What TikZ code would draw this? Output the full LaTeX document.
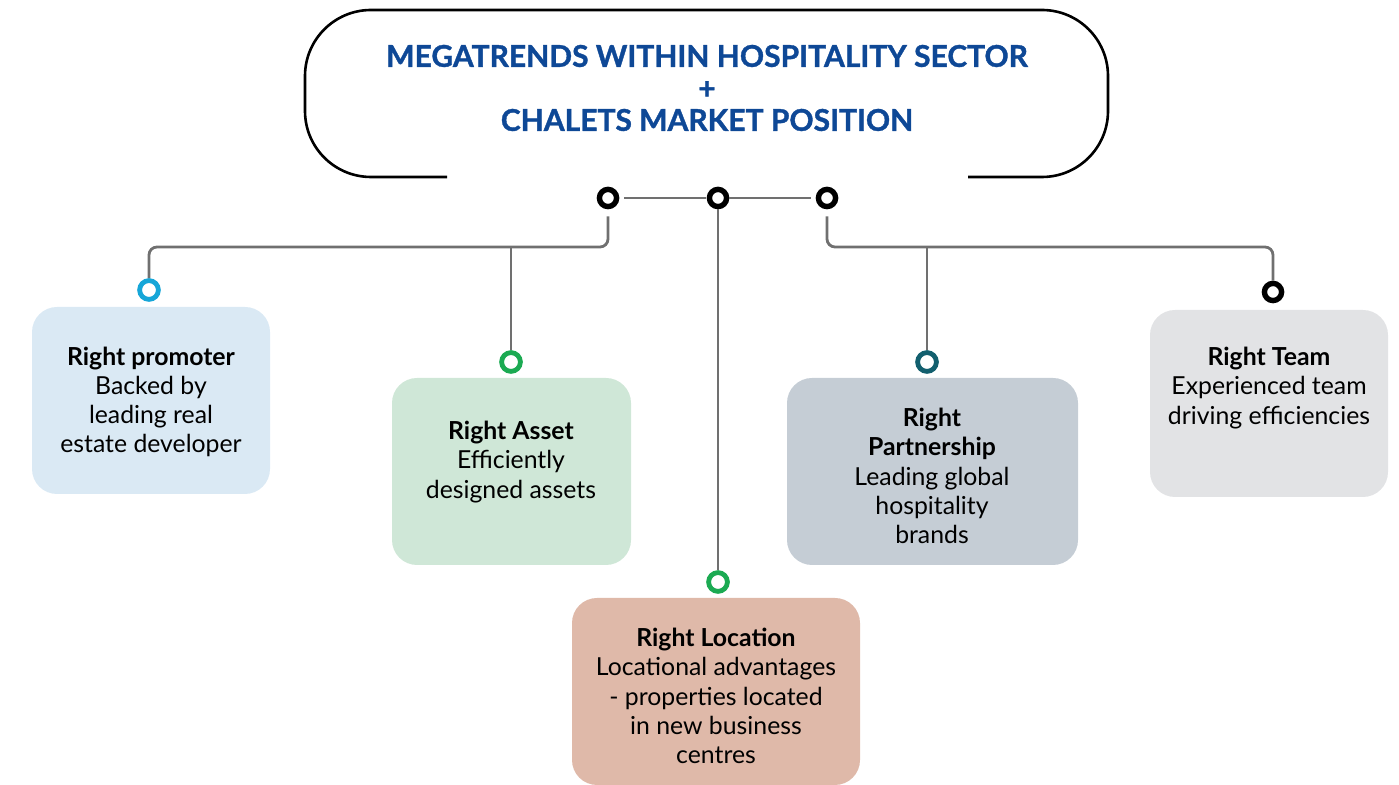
\documentclass[tikz,border=0pt]{standalone}
\usepackage{fontspec}
\setmainfont{Lato}
\newfontfamily\titlefont{Lato}[BoldFeatures={FakeBold=1.2}]
\definecolor{titleblue}{RGB}{14,72,150}
\definecolor{promfill}{RGB}{218,233,244}
\definecolor{assetfill}{RGB}{207,231,215}
\definecolor{locfill}{RGB}{223,185,169}
\definecolor{partfill}{RGB}{197,205,213}
\definecolor{teamfill}{RGB}{226,227,229}
\definecolor{ringcyan}{RGB}{22,166,216}
\definecolor{ringgreen}{RGB}{27,170,82}
\definecolor{ringteal}{RGB}{18,95,110}
\definecolor{conngray}{RGB}{112,112,112}
\tikzset{
  ring/.style={circle, draw=#1, fill=white, line width=2.7pt, minimum size=8.6pt, inner sep=0pt},
  conn/.style={draw=conngray, line width=1.4pt, rounded corners=4pt},
  card/.style={rounded corners=12.5pt, fill=#1, draw=none, inner sep=0pt},
  cardtext/.style={align=center, font=\fontsize{12.4pt}{14.6pt}\selectfont, inner sep=0pt},
  hdr/.style={draw=black, line width=1.3pt, rounded corners=33pt}
}
\begin{document}
\begin{tikzpicture}[x=0.5pt,y=-0.5pt]
\useasboundingbox (0,0) rectangle (1399,785);
% header frame
\draw[hdr] (447,177) -- (305,177) -- (305,10) -- (1108,10) -- (1108,177) -- (968,177);
\node[align=center, text=titleblue, font=\titlefont\fontsize{15pt}{16pt}\selectfont\bfseries, inner sep=0pt] (title) at (707,88)
  {MEGATRENDS WITHIN HOSPITALITY SECTOR\\+\\CHALETS MARKET POSITION};
% cards
\node[card=promfill, minimum width=119pt, minimum height=93.5pt] (b1) at (151,400.5) {};
\node[card=assetfill, minimum width=119.5pt, minimum height=93.5pt] (b2) at (511.5,471.5) {};
\node[card=locfill, minimum width=144pt, minimum height=93.5pt] (b3) at (716,691.5) {};
\node[card=partfill, minimum width=145.5pt, minimum height=93.5pt] (b4) at (932.5,471.5) {};
\node[card=teamfill, minimum width=119pt, minimum height=93.5pt] (b5) at (1269,403.5) {};
% card texts
\node[cardtext] (t1) at (151,402) {\textbf{Right promoter}\\Backed by\\leading real\\estate developer};
\node[cardtext] (t2) at (511,462) {\textbf{Right Asset}\\Efficiently\\designed assets};
\node[cardtext] (t3) at (716,696) {\textbf{Right Location}\\Locational advantages\\- properties located\\in new business\\centres};
\node[cardtext] (t4) at (932,476) {\textbf{Right}\\\textbf{Partnership}\\Leading global\\hospitality\\brands};
\node[cardtext] (t5) at (1269,388) {\textbf{Right Team}\\Experienced team\\driving efficiencies};
% rings
\node[ring=black] (c1) at (608,198) {};
\node[ring=black] (c2) at (718,198) {};
\node[ring=black] (c3) at (827,198) {};
\node[ring=ringcyan, minimum size=9.4pt, line width=2.4pt] (pc) at (149,290) {};
\node[ring=ringgreen, minimum size=9.4pt, line width=2.4pt] (ac) at (511,362) {};
\node[ring=ringgreen, minimum size=9.4pt, line width=2.4pt] (lc) at (718,582) {};
\node[ring=ringteal, minimum size=9.4pt, line width=2.4pt] (tc) at (927,362) {};
\node[ring=black] (mc) at (1273,292) {};
\coordinate (hb) at (0,247);
% connectors
\draw[conn, shorten <=2.5pt, shorten >=0.5pt] (c1.east) -- (c2.west);
\draw[conn, shorten >=2.5pt] (c2.east) -- (c3.west);
\draw[conn] (c2.south) -- (lc.north);
\draw[conn] ([yshift=-3.5pt]c1.south) -- (c1.south |- hb) -- (pc.north |- hb) -- (pc.north);
\draw[conn] ([yshift=-3.5pt]c3.south) -- (c3.south |- hb) -- (mc.north |- hb) -- (mc.north);
\draw[conn] (ac.north |- hb) -- (ac.north);
\draw[conn] (tc.north |- hb) -- (tc.north);
\end{tikzpicture}
\end{document}
